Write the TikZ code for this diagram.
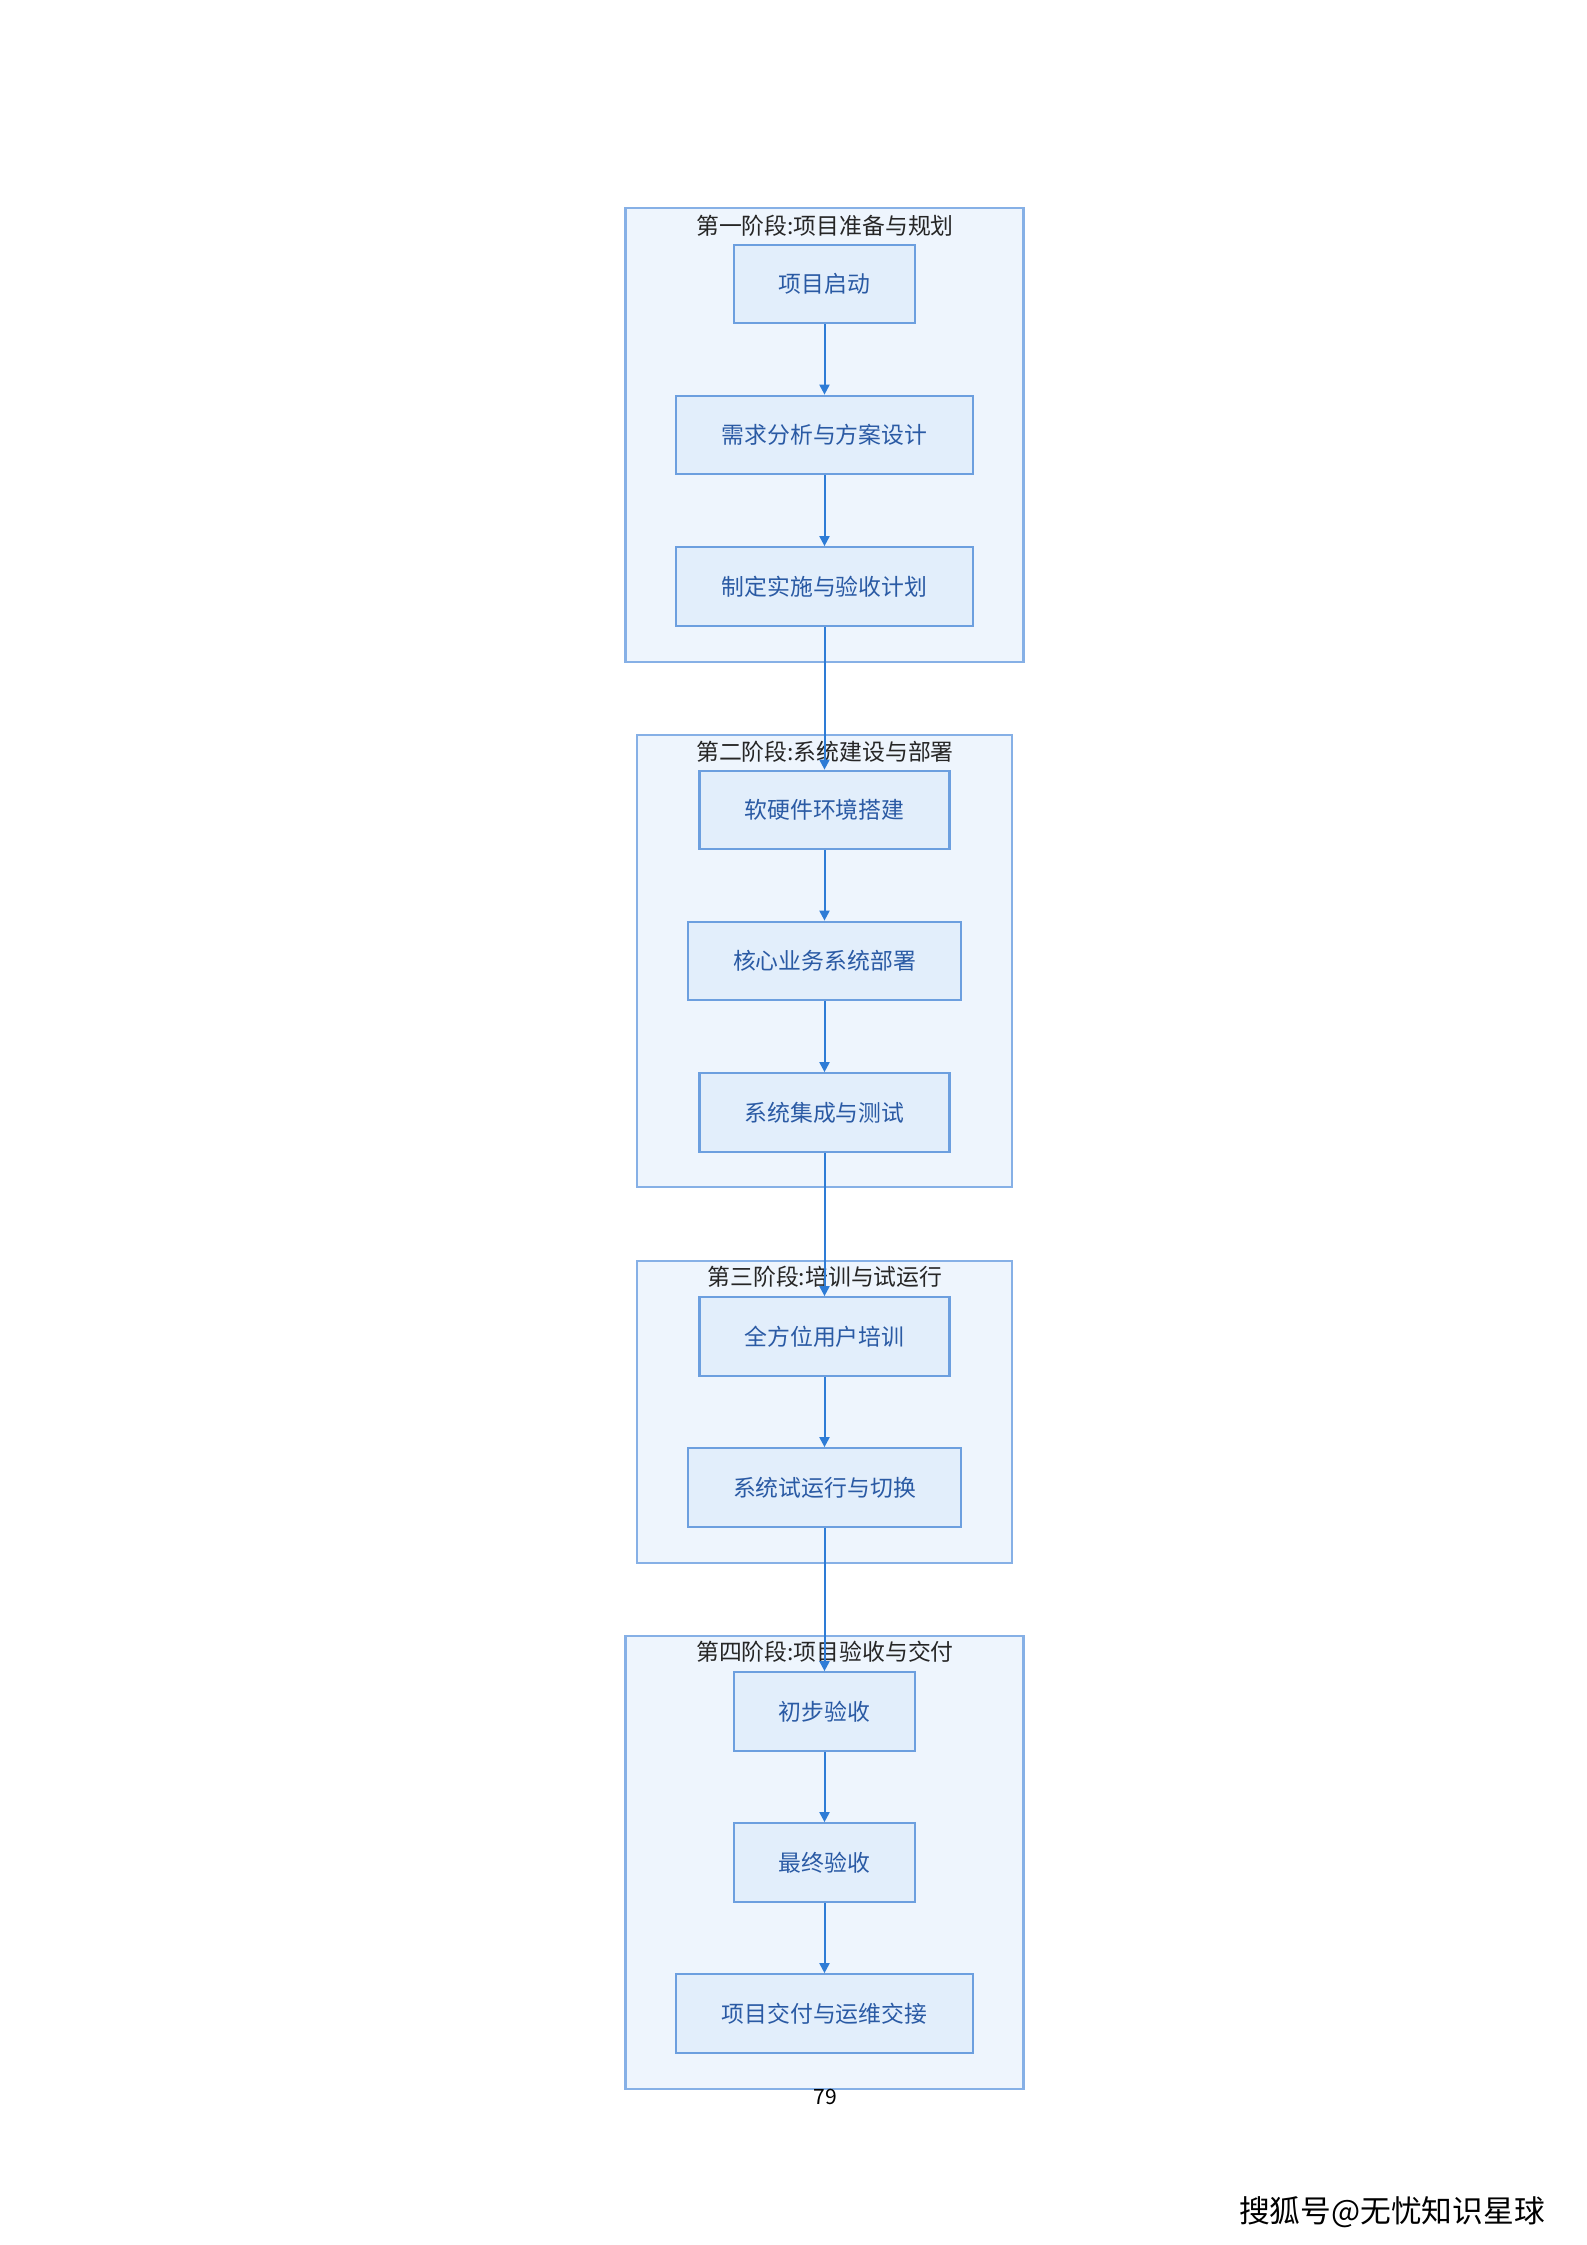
\documentclass[tikz,border=0pt]{standalone}
\usepackage{fontspec}
\setmainfont{Noto Sans CJK SC}
\usetikzlibrary{arrows.meta}
\definecolor{framefill}{HTML}{EEF5FD}
\definecolor{frameline}{HTML}{86B0E6}
\definecolor{boxfill}{HTML}{E2EEFB}
\definecolor{boxline}{HTML}{6C9FDF}
\definecolor{flowblue}{HTML}{2E7CD6}
\definecolor{boxtext}{HTML}{2A5AA4}
\tikzset{
  phase/.style={draw=frameline, fill=framefill, line width=0.5mm, inner sep=0pt},
  phasetitle/.style={font=\fontsize{13pt}{15pt}\selectfont, text=black!85, inner sep=0pt},
  stepbox/.style={draw=boxline, fill=boxfill, line width=0.45mm, text=boxtext,
    minimum height=15.7mm, inner sep=0pt, font=\fontsize{13pt}{15pt}\selectfont},
  flow/.style={-{Triangle[width=2mm, length=2mm]}, draw=flowblue, line width=0.4mm}
}

\begin{document}
\begin{tikzpicture}[x=0.2mm, y=-0.2mm]
    \useasboundingbox[fill=white] (0, 0) rectangle (1587, 2245);
    % phase frames
    \node[phase, minimum width=79.6mm, minimum height=90.8mm] (ph1) at (824.5, 435) {};
    \node[phase, minimum width=75mm, minimum height=90.4mm] (ph2) at (824.5, 961) {};
    \node[phase, minimum width=75mm, minimum height=60.4mm] (ph3) at (824.5, 1412) {};
    \node[phase, minimum width=79.6mm, minimum height=90.6mm] (ph4) at (824.5, 1862.5) {};
    \node[phasetitle] (t1) at (825, 226) {第一阶段:项目准备与规划};
    \node[phasetitle] (t2) at (825, 752) {第二阶段:系统建设与部署};
    \node[phasetitle] (t3) at (825, 1277) {第三阶段:培训与试运行};
    \node[phasetitle] (t4) at (825, 1652) {第四阶段:项目验收与交付};
    % steps
    \node[stepbox, minimum width=36.2mm] (start) at (824.5, 284) {项目启动};
    \node[stepbox, minimum width=59.4mm] (req) at (824.5, 435) {需求分析与方案设计};
    \node[stepbox, minimum width=59.4mm] (plan) at (824.5, 586.5) {制定实施与验收计划};
    \node[stepbox, minimum width=50mm] (env) at (824.5, 810) {软硬件环境搭建};
    \node[stepbox, minimum width=54.6mm] (core) at (824.5, 961) {核心业务系统部署};
    \node[stepbox, minimum width=50mm] (integ) at (824.5, 1112.5) {系统集成与测试};
    \node[stepbox, minimum width=50mm] (train) at (824.5, 1336.5) {全方位用户培训};
    \node[stepbox, minimum width=54.6mm] (trial) at (824.5, 1487.5) {系统试运行与切换};
    \node[stepbox, minimum width=36.2mm] (prelim) at (824.5, 1711.5) {初步验收};
    \node[stepbox, minimum width=36.2mm] (final) at (824.5, 1862.5) {最终验收};
    \node[stepbox, minimum width=59.4mm] (deliv) at (824.5, 2013.5) {项目交付与运维交接};
    % flow
    \draw[flow] (start) -- (req);
    \draw[flow] (req) -- (plan);
    \draw[flow] (plan) -- (env);
    \draw[flow] (env) -- (core);
    \draw[flow] (core) -- (integ);
    \draw[flow] (integ) -- (train);
    \draw[flow] (train) -- (trial);
    \draw[flow] (trial) -- (prelim);
    \draw[flow] (prelim) -- (final);
    \draw[flow] (final) -- (deliv);
    % page number and mark
    \node[font=\fontsize{12pt}{14pt}\selectfont] (page) at (825, 2097) {79};
    \node[font=\fontsize{17.5pt}{20pt}\selectfont] (mark) at (1392, 2212) {搜狐号@无忧知识星球};
  \end{tikzpicture}
\end{document}
